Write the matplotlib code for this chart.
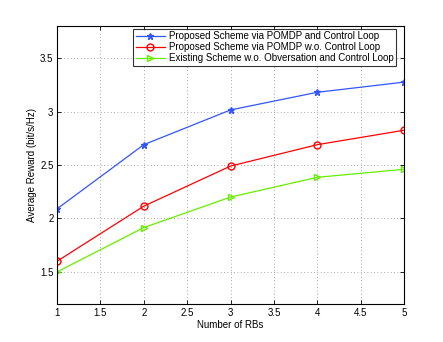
import matplotlib
matplotlib.use("Agg")
import matplotlib.pyplot as plt

x_rbs = [1, 2, 3, 4, 5]
proposed_cl = [2.09, 2.69, 3.015, 3.18, 3.275]
proposed_wo = [1.60, 2.115, 2.49, 2.69, 2.825]
existing = [1.50, 1.915, 2.20, 2.385, 2.46]
labels = ["Proposed Scheme via POMDP and Control Loop",
          "Proposed Scheme via POMDP w.o. Control Loop",
          "Existing Scheme w.o. Obversation and Control Loop"]
xticks = [1, 1.5, 2, 2.5, 3, 3.5, 4, 4.5, 5]
yticks = [1.5, 2, 2.5, 3, 3.5]

plt.rcParams['font.family'] = ['Liberation Sans', 'DejaVu Sans']
fig = plt.figure(figsize=(4.43, 3.42), dpi=100)
ax = fig.add_axes([0.1287, 0.111, 0.7833, 0.813])

ax.plot(x_rbs, proposed_cl, color='#3355ff', marker='*', markersize=5, lw=0.9, label=labels[0])
ax.plot(x_rbs, proposed_wo, color='#ff0000', marker='o', markersize=5, mfc='none', lw=0.9, label=labels[1])
ax.plot(x_rbs, existing, color='#66ee00', marker='>', markersize=5, mfc='none', lw=0.9, label=labels[2])

ax.set_xlim(1, 5)
ax.set_ylim(1.2, 3.8)
ax.set_xticks(xticks)
ax.set_xticklabels([f"{v:g}" for v in xticks])
ax.set_yticks(yticks)
ax.set_yticklabels([f"{v:g}" for v in yticks])
ax.tick_params(direction='in', labelsize=7, length=3, width=0.6, top=True, right=True, pad=2.5)
ax.grid(True, linestyle=(0, (1, 3)), color='#888888', linewidth=0.6)
for s in ax.spines.values():
    s.set_linewidth(0.8)
ax.set_xlabel("Number of RBs", fontsize=7, labelpad=2)
ax.set_ylabel("Average Reward (bit/s/Hz)", fontsize=7, labelpad=2.5)

leg = ax.legend(loc='upper right', bbox_to_anchor=(0.985, 1.0), fontsize=7, frameon=True,
                fancybox=False, edgecolor='black', handlelength=3, borderpad=0.25,
                labelspacing=0.1, handletextpad=0.4, borderaxespad=0.3)
leg.get_frame().set_linewidth(0.8)

fig.savefig("out.png", dpi=100)
